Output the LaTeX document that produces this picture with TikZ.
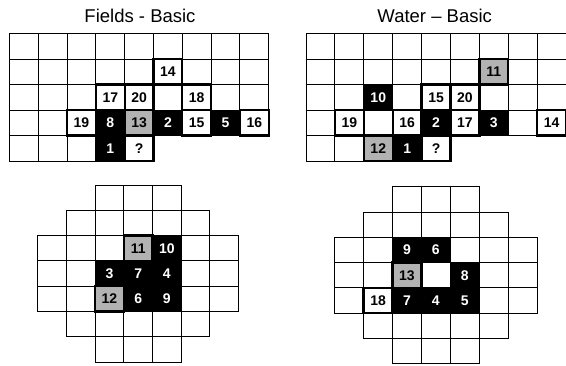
\documentclass[tikz,border=0pt]{standalone}
\usepackage{fontspec}
\setmainfont{Liberation Sans}
\tikzset{
  gridline/.style={draw=black, line width=0.9pt},
  boldcell/.style={draw=black, line width=2.3pt, fill=white},
  blackcell/.style={fill=black, draw=black, line width=0.9pt},
  graycell/.style={fill=black!30, draw=black, line width=2.3pt},
  numblk/.style={font=\fontsize{14}{14}\selectfont\bfseries, text=black, inner sep=0pt},
  numwht/.style={font=\fontsize{14}{14}\selectfont\bfseries, text=white, inner sep=0pt},
  title/.style={font=\fontsize{18.5}{18.5}\selectfont, inner sep=0pt, anchor=base}
}
\begin{document}
\begin{tikzpicture}[x=1pt,y=-1pt]
\useasboundingbox (0,0) rectangle (566,365);
\node[title] (t1) at (140,22) {Fields - Basic};
\node[title] (t2) at (434.7,22) {Water -- Basic};

% ---------- Fields - Basic ----------
\begin{scope}[shift={(9.5pt,-33.5pt)}, x=28.8pt, y=-25.5pt]
  \foreach \r in {0,...,3} \foreach \c in {0,...,8}
    \draw[gridline] (\c,\r) rectangle ++(1,1);
  \foreach \c in {0,...,4} \draw[gridline] (\c,4) rectangle ++(1,1);
  \foreach \c/\r in {3/3, 5/3, 7/3, 3/4}
    \draw[blackcell] (\c,\r) rectangle ++(1,1);
  \foreach \c/\r in {5/1, 3/2, 4/2, 6/2, 2/3, 6/3, 8/3, 4/4}
    \draw[boldcell] (\c,\r) rectangle ++(1,1);
  \foreach \c/\r in {4/3}
    \draw[graycell] (\c,\r) rectangle ++(1,1);
  \foreach \c/\r/\t in {3/3/8, 5/3/2, 7/3/5, 3/4/1}
    \node[numwht] (f-\c-\r) at (\c+0.5,\r+0.5) {\t};
  \foreach \c/\r/\t in {5/1/14, 3/2/17, 4/2/20, 6/2/18, 2/3/19, 6/3/15, 8/3/16, 4/4/?, 4/3/13}
    \node[numblk] (f-\c-\r) at (\c+0.5,\r+0.5) {\t};
\end{scope}

% ---------- Water - Basic ----------
\begin{scope}[shift={(306pt,-33.5pt)}, x=28.9pt, y=-25.5pt]
  \foreach \r in {0,...,3} \foreach \c in {0,...,8}
    \draw[gridline] (\c,\r) rectangle ++(1,1);
  \foreach \c in {0,...,4} \draw[gridline] (\c,4) rectangle ++(1,1);
  \foreach \c/\r in {2/2, 4/3, 6/3, 3/4}
    \draw[blackcell] (\c,\r) rectangle ++(1,1);
  \foreach \c/\r in {4/2, 5/2, 1/3, 3/3, 5/3, 8/3, 4/4}
    \draw[boldcell] (\c,\r) rectangle ++(1,1);
  \foreach \c/\r in {6/1, 2/4}
    \draw[graycell] (\c,\r) rectangle ++(1,1);
  \foreach \c/\r/\t in {2/2/10, 4/3/2, 6/3/3, 3/4/1}
    \node[numwht] (w-\c-\r) at (\c+0.5,\r+0.5) {\t};
  \foreach \c/\r/\t in {4/2/15, 5/2/20, 1/3/19, 3/3/16, 5/3/17, 8/3/14, 4/4/?, 6/1/11, 2/4/12}
    \node[numblk] (w-\c-\r) at (\c+0.5,\r+0.5) {\t};
\end{scope}

% ---------- bottom left ----------
\begin{scope}[shift={(37.7pt,-185pt)}, x=28.7pt, y=-25.3pt]
  \foreach \r/\a/\b in {0/2/4, 1/1/5, 2/0/6, 3/0/6, 4/0/6, 5/1/5, 6/2/4}
    \foreach \c in {\a,...,\b}
      \draw[gridline] (\c,\r) rectangle ++(1,1);
  \foreach \c/\r in {4/2, 2/3, 3/3, 4/3, 3/4, 4/4}
    \draw[blackcell] (\c,\r) rectangle ++(1,1);
  \foreach \c/\r in {3/2, 2/4}
    \draw[graycell] (\c,\r) rectangle ++(1,1);
  \foreach \c/\r/\t in {4/2/10, 2/3/3, 3/3/7, 4/3/4, 3/4/6, 4/4/9}
    \node[numwht] (l-\c-\r) at (\c+0.5,\r+0.5) {\t};
  \foreach \c/\r/\t in {3/2/11, 2/4/12}
    \node[numblk] (l-\c-\r) at (\c+0.5,\r+0.5) {\t};
\end{scope}

% ---------- bottom right ----------
\begin{scope}[shift={(334.7pt,-186.7pt)}, x=28.9pt, y=-25.3pt]
  \foreach \r/\a/\b in {0/2/4, 1/1/5, 2/0/6, 3/0/6, 4/0/6, 5/1/5, 6/2/4}
    \foreach \c in {\a,...,\b}
      \draw[gridline] (\c,\r) rectangle ++(1,1);
  \foreach \c/\r in {2/2, 3/2, 4/3, 2/4, 3/4, 4/4}
    \draw[blackcell] (\c,\r) rectangle ++(1,1);
  \foreach \c/\r in {1/4}
    \draw[boldcell] (\c,\r) rectangle ++(1,1);
  \foreach \c/\r in {2/3}
    \draw[graycell] (\c,\r) rectangle ++(1,1);
  \foreach \c/\r/\t in {2/2/9, 3/2/6, 4/3/8, 2/4/7, 3/4/4, 4/4/5}
    \node[numwht] (r-\c-\r) at (\c+0.5,\r+0.5) {\t};
  \foreach \c/\r/\t in {2/3/13, 1/4/18}
    \node[numblk] (r-\c-\r) at (\c+0.5,\r+0.5) {\t};
\end{scope}
\end{tikzpicture}
\end{document}
